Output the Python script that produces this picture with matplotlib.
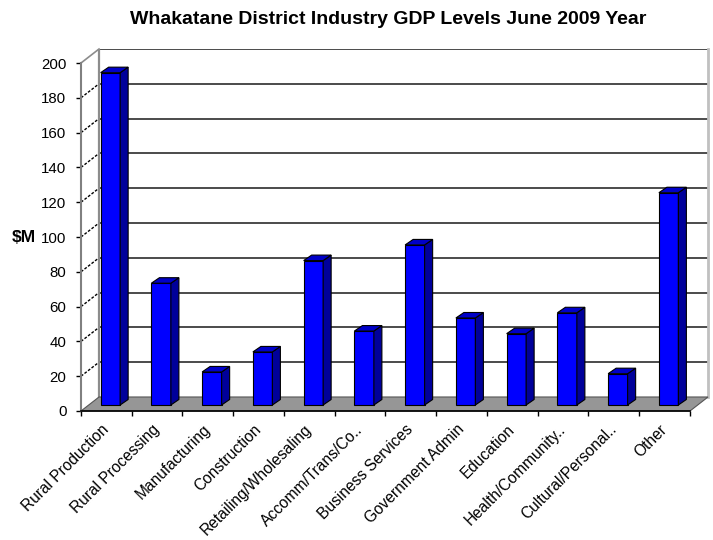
import matplotlib
matplotlib.use("Agg")
import matplotlib.pyplot as plt
from matplotlib.patches import Polygon
import numpy as np

plt.rcParams['font.family'] = ['Liberation Sans', 'DejaVu Sans']

categories = ["Rural Production", "Rural Processing", "Manufacturing", "Construction",
              "Retailing/Wholesaling", "Accomm/Trans/Co..", "Business Services",
              "Government Admin", "Education", "Health/Community..",
              "Cultural/Personal..", "Other"]
values = [191, 70, 19, 30.5, 83, 42.5, 92, 50, 41, 53, 18, 122]
yticks = list(range(0, 201, 20))
title = "Whakatane District Industry GDP Levels June 2009 Year"
ylabel = "\\$M"

# 3D projection offsets (data units)
DX, DY = 0.355, 8.05          # full depth of the box
SX, BASE = 0.079, 3.45        # bar front-face offset
W = 0.384                     # bar front width
BDX, BDY = 0.158, 3.16        # bar depth

fig = plt.figure(figsize=(7.13, 5.40), dpi=100)
ax = fig.add_axes([81/713, 129/540, 627/713, 362/540])
n = len(categories)
ax.set_xlim(-0.5, n - 0.5 + DX)
ax.set_ylim(0, 200 + DY)

# back wall gridlines
for v in yticks[1:]:
    ax.plot([-0.5 + DX, n - 0.5 + DX], [v + DY, v + DY], color='#1a1a1a', lw=1.1, zorder=1)
# side wall diagonals
for v in yticks[1:-1]:
    ax.plot([-0.5, -0.5 + DX], [v, v + DY], color='black', lw=1.0,
            linestyle=(0, (2, 1.2)), zorder=1, clip_on=False)
ax.plot([-0.5, -0.5 + DX], [200, 200 + DY], color='#8c8c8c', lw=1.2, zorder=1, clip_on=False)
# back wall edges
ax.plot([-0.5 + DX, -0.5 + DX], [DY, 200 + DY], color='#8c8c8c', lw=1.6, zorder=1)
ax.plot([n - 0.5 + DX, n - 0.5 + DX], [DY, 200 + DY], color='#c0c0c0', lw=2.0, zorder=1, clip_on=False)

# floor
floor = Polygon([(-0.5, 0), (n - 0.5, 0), (n - 0.5 + DX, DY), (-0.5 + DX, DY)],
                closed=True, facecolor='#969696', edgecolor='#555555', lw=0.8, zorder=2,
                clip_on=False)
ax.add_patch(floor)

# bars
pos = np.arange(n)
ax.bar(pos + SX, values, width=W, bottom=BASE, color='#0000FF',
       edgecolor='black', linewidth=0.8, zorder=4)
for p, v in zip(pos, values):
    x0 = p + SX - W / 2
    x1 = x0 + W
    y0 = BASE
    y1 = BASE + v
    side = Polygon([(x1, y0), (x1 + BDX, y0 + BDY), (x1 + BDX, y1 + BDY), (x1, y1)],
                   closed=True, facecolor='#00009A', edgecolor='black', lw=0.8, zorder=4)
    top = Polygon([(x0, y1), (x1, y1), (x1 + BDX, y1 + BDY), (x0 + BDX, y1 + BDY)],
                  closed=True, facecolor='#0000C8', edgecolor='black', lw=0.8, zorder=4)
    ax.add_patch(side)
    ax.add_patch(top)

# spines / axes
for s in ['top', 'right']:
    ax.spines[s].set_visible(False)
ax.spines['left'].set_bounds(0, 200)
ax.spines['left'].set_color('#808080')
ax.spines['left'].set_linewidth(1.5)
ax.spines['bottom'].set_bounds(-0.5, n - 0.5)
ax.spines['bottom'].set_color('black')
ax.spines['bottom'].set_linewidth(1.2)
ax.spines['bottom'].set_zorder(6)

ax.set_yticks(yticks)
ax.set_yticklabels([str(t) for t in yticks], fontsize=10.8)
ax.tick_params(axis='y', length=3.5, width=1, color='black', pad=7, direction='out')

ax.set_xticks(np.arange(-0.5, n, 1.0))
ax.set_xticklabels([])
ax.tick_params(axis='x', which='major', length=3.5, width=1, color='black', direction='out')
ax.set_xticks(pos, minor=True)
ax.set_xticklabels(categories, minor=True, rotation=45, ha='right', va='center',
                   rotation_mode='anchor', fontsize=11.2)
ax.tick_params(axis='x', which='minor', length=0, pad=11.5)

fig.text(388/713, 1 - 20/540, title, ha='center', va='center',
         fontsize=14, fontweight='bold')
fig.text(36/713, 1 - 237/540, ylabel, ha='right', va='center',
         fontsize=12.5, fontweight='bold')

fig.savefig("out.png", dpi=100)
